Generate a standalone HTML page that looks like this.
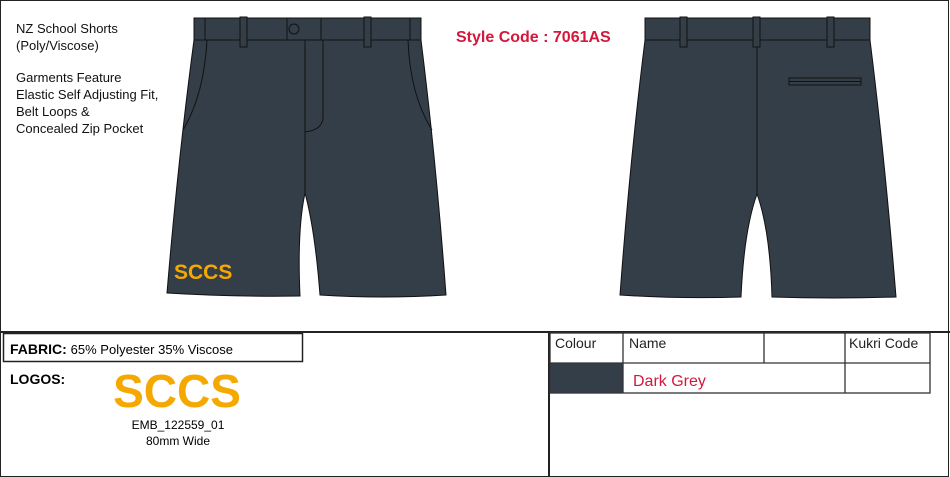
<!DOCTYPE html>
<html><head><meta charset="utf-8"><style>
body{margin:0;background:#fff;width:950px;height:477px;overflow:hidden;font-family:"Liberation Sans",sans-serif}
</style></head><body>
<svg width="950" height="477" viewBox="0 0 950 477" xmlns="http://www.w3.org/2000/svg" style="position:absolute;left:0;top:0">
<rect x="0.5" y="0.5" width="948" height="476" fill="none" stroke="#222" stroke-width="1"/>
<line x1="0" y1="332" x2="950" y2="332" stroke="#222" stroke-width="2"/>
<line x1="549" y1="332" x2="549" y2="477" stroke="#222" stroke-width="2"/>
<rect x="3.5" y="333.5" width="299" height="28" fill="none" stroke="#222" stroke-width="1.5"/>
<g stroke="#333" stroke-width="1.3" fill="none">
<rect x="550" y="333" width="380" height="60"/>
<line x1="550" y1="363" x2="930" y2="363"/>
<line x1="623" y1="333" x2="623" y2="393"/>
<line x1="764" y1="333" x2="764" y2="363"/>
<line x1="845" y1="333" x2="845" y2="393"/>
</g>
<rect x="550.5" y="363.5" width="72" height="29" fill="#343e48"/>
<g font-size="13" fill="#111">
<text x="16" y="33">NZ School Shorts</text>
<text x="16" y="50">(Poly/Viscose)</text>
<text x="16" y="82">Garments Feature</text>
<text x="16" y="99">Elastic Self Adjusting Fit,</text>
<text x="16" y="116">Belt Loops &amp;</text>
<text x="16" y="133">Concealed Zip Pocket</text>
</g>
<text x="456" y="42" font-size="16" font-weight="bold" fill="#d6163c">Style Code :  7061AS</text>
<text x="10" y="354" font-size="14"><tspan font-weight="bold">FABRIC:</tspan> <tspan font-size="13">65% Polyester 35% Viscose</tspan></text>
<text x="10" y="384" font-size="14" font-weight="bold">LOGOS:</text>
<text x="177" y="407" font-size="46" font-weight="bold" fill="#f5a800" text-anchor="middle">SCCS</text>
<text x="178" y="429" font-size="12" text-anchor="middle">EMB_122559_01</text>
<text x="178" y="445" font-size="12" text-anchor="middle">80mm Wide</text>
<g font-size="14" fill="#222">
<text x="555" y="348">Colour</text>
<text x="629" y="348">Name</text>
<text x="849" y="348">Kukri Code</text>
</g>
<text x="633" y="386" font-size="16" fill="#d6163c">Dark Grey</text>
<g stroke="#111" stroke-width="1" fill="#343e48">
<path d="M194 40 L421 40 Q436 160 446 295 Q383 299 320 295 Q315 230 305 193 Q297 230 300 296 Q234 297 167 293 Q178 160 194 40 Z"/>
<rect x="194" y="18" width="227" height="22"/>
<rect x="205" y="18" width="205" height="22" fill="none"/>
<rect x="287" y="18" width="34" height="22"/>
<circle cx="294" cy="29" r="5"/>
<rect x="240" y="17" width="7" height="30"/>
<rect x="364" y="17" width="7" height="30"/>
<path d="M207 40 Q204 95 183 130" fill="none"/>
<path d="M408 40 Q410 95 432 130" fill="none"/>
<path d="M305 40 L305 195" fill="none"/>
<path d="M323 40 L323 118 Q322 130 305 132" fill="none"/>
</g>
<text x="174" y="279" font-size="21" font-weight="bold" fill="#f5a800">SCCS</text>
<g stroke="#111" stroke-width="1" fill="#343e48">
<path d="M645 40 L870 40 Q885 160 896 297 Q834 299 772 297 Q770 230 757 194 Q744 230 741 297 Q680 299 620 295 Q630 160 645 40 Z"/>
<rect x="645" y="18" width="225" height="22"/>
<rect x="680" y="17" width="7" height="30"/>
<rect x="753" y="17" width="7" height="30"/>
<rect x="827" y="17" width="7" height="30"/>
<line x1="757" y1="47" x2="757" y2="194"/>
<rect x="789" y="78" width="72" height="7"/>
<line x1="789" y1="81.5" x2="861" y2="81.5"/>
</g>
</svg>
</body></html>
